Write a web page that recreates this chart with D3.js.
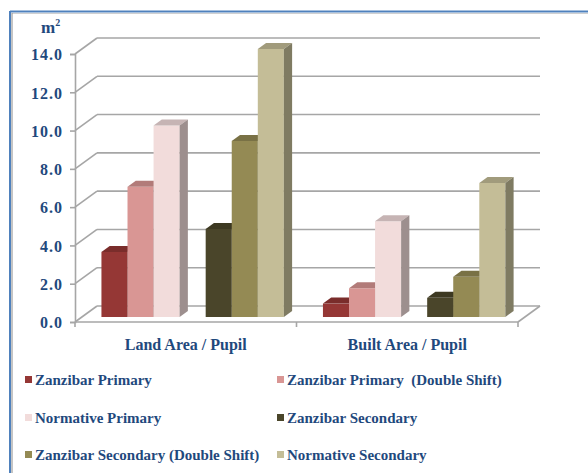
<!DOCTYPE html>
<html>
<head>
<meta charset="utf-8">
<script src="https://cdn.jsdelivr.net/npm/d3@7"></script>
<style>
  html, body { margin: 0; padding: 0; background: #fff; }
  svg { display: block; }
  text { font-family: "Liberation Serif", "Times New Roman", serif; font-weight: bold; fill: #1f497d; }
</style>
</head>
<body>
<svg id="chart" width="588" height="473"></svg>
<script>
// ---- data ----
const categories = ["Land Area / Pupil", "Built Area / Pupil"];
const seriesNames = [
  "Zanzibar Primary",
  "Zanzibar Primary  (Double Shift)",
  "Normative Primary",
  "Zanzibar Secondary",
  "Zanzibar Secondary (Double Shift)",
  "Normative Secondary"
];
const zanzibarPrimary = [3.4, 0.7];
const zanzibarPrimaryDouble = [6.8, 1.5];
const normativePrimary = [10.0, 5.0];
const zanzibarSecondary = [4.6, 1.0];
const zanzibarSecondaryDouble = [9.2, 2.1];
const normativeSecondary = [14.0, 7.0];
const yTicks = [0, 2, 4, 6, 8, 10, 12, 14];
const yTickLabels = ["0.0", "2.0", "4.0", "6.0", "8.0", "10.0", "12.0", "14.0"];
const seriesColors = ["#953735", "#d99694", "#f2dcdb", "#4a452a", "#948a54", "#c4bd97"];

const seriesValues = [zanzibarPrimary, zanzibarPrimaryDouble, normativePrimary,
                      zanzibarSecondary, zanzibarSecondaryDouble, normativeSecondary];
// slot keys: a blank slot separates primary from secondary
const slotKeys = ["s0", "s1", "s2", "gap", "s3", "s4", "s5"];
const seriesSlot = ["s0", "s1", "s2", "s3", "s4", "s5"];

// ---- layout ----
const svg = d3.select("#chart");
const frontLeft = 75, frontRight = 518, floorY = 322, topY = 54;
const depthX = 22, depthY = 16;          // back-plane offset
const barDX = 8.25, barDY = 6;           // bar depth
const barOffX = 6.9, barOffY = 5;        // bar front-face offset from front plane

const y = d3.scaleLinear().domain([0, 14]).range([floorY, topY]);
const x = d3.scaleBand().domain(categories).range([frontLeft, frontRight]).padding(0);
const xs = d3.scaleBand().domain(slotKeys).range([0, x.bandwidth()]).paddingInner(0).paddingOuter(0.75);

const gridColor = "#a6a6a6";

// frame
svg.append("line").attr("x1", 10).attr("y1", 11.5).attr("x2", 588).attr("y2", 11.5)
  .attr("stroke", "#4f81bd").attr("stroke-width", 2);
svg.append("line").attr("x1", 12).attr("y1", 13.5).attr("x2", 588).attr("y2", 13.5)
  .attr("stroke", "#d0d0d0").attr("stroke-width", 1);
svg.append("line").attr("x1", 10).attr("y1", 11).attr("x2", 10).attr("y2", 473)
  .attr("stroke", "#4f81bd").attr("stroke-width", 2);
svg.append("line").attr("x1", 12).attr("y1", 13).attr("x2", 12).attr("y2", 473)
  .attr("stroke", "#8a8a8a").attr("stroke-width", 1);

// gridlines (back wall + left wall diagonals)
const grid = svg.append("g");
yTicks.forEach(v => {
  grid.append("line")
    .attr("x1", frontLeft + depthX).attr("x2", frontRight + depthX)
    .attr("y1", y(v) - depthY).attr("y2", y(v) - depthY)
    .attr("stroke", gridColor).attr("stroke-width", 1.6);
  grid.append("line")
    .attr("x1", frontLeft).attr("y1", y(v))
    .attr("x2", frontLeft + depthX).attr("y2", y(v) - depthY)
    .attr("stroke", gridColor).attr("stroke-width", 1.6);
});
// floor right edge and front edge
grid.append("line")
  .attr("x1", frontRight).attr("y1", floorY)
  .attr("x2", frontRight + depthX).attr("y2", floorY - depthY)
  .attr("stroke", gridColor).attr("stroke-width", 1.6);
grid.append("line")
  .attr("x1", frontLeft).attr("y1", floorY)
  .attr("x2", frontRight).attr("y2", floorY)
  .attr("stroke", gridColor).attr("stroke-width", 1.6);

// value axis
const yAxis = svg.append("g").attr("transform", `translate(${frontLeft},0)`)
  .call(d3.axisLeft(y).tickValues(yTicks).tickSize(5).tickPadding(7)
    .tickFormat((d, i) => yTickLabels[i]));
yAxis.select(".domain").attr("stroke", gridColor).attr("stroke-width", 1.6);
yAxis.selectAll(".tick line").attr("stroke", gridColor).attr("stroke-width", 1.6);
yAxis.selectAll(".tick text").attr("font-size", 16).attr("fill", "#1f497d")
  .attr("font-family", "Liberation Serif").attr("font-weight", "bold")
  .attr("letter-spacing", 1).attr("dy", "0.36em");

// category axis
const xAxis = svg.append("g").attr("transform", `translate(0,${floorY})`)
  .call(d3.axisBottom(x).tickSize(0).tickPadding(17));
xAxis.select(".domain").remove();
xAxis.selectAll(".tick text").attr("font-size", 16).attr("fill", "#1f497d")
  .attr("font-family", "Liberation Serif").attr("font-weight", "bold");
const catTicks = [frontLeft, ...categories.map(c => x(c) + x.bandwidth())];
svg.append("g").selectAll("line").data(catTicks).join("line")
  .attr("x1", d => d).attr("x2", d => d)
  .attr("y1", floorY).attr("y2", floorY + 5)
  .attr("stroke", gridColor).attr("stroke-width", 1.6);

// unit label
const unit = svg.append("text").attr("x", 41).attr("y", 33).attr("font-size", 17);
unit.append("tspan").text("m");
unit.append("tspan").attr("font-size", 10).attr("dy", -7).text("2");

// bars
const shade = (c, k) => { const h = d3.rgb(c); return d3.rgb(h.r * k, h.g * k, h.b * k).formatHex(); };
const bars = svg.append("g");
categories.forEach((cat, ci) => {
  seriesValues.forEach((vals, si) => {
    const v = vals[ci];
    const w = xs.bandwidth();
    const x0 = x(cat) + xs(seriesSlot[si]) + barOffX;
    const yT = y(v) - barOffY;
    const yB = y(0) - barOffY;
    const col = seriesColors[si];
    const g = bars.append("g");
    g.append("rect").attr("x", x0).attr("y", yT).attr("width", w).attr("height", yB - yT)
      .attr("fill", col);
    g.append("polygon")
      .attr("points", [[x0, yT], [x0 + w, yT], [x0 + w + barDX, yT - barDY], [x0 + barDX, yT - barDY]].join(" "))
      .attr("fill", shade(col, 0.82));
    g.append("polygon")
      .attr("points", [[x0 + w, yT], [x0 + w + barDX, yT - barDY], [x0 + w + barDX, yB - barDY], [x0 + w, yB]].join(" "))
      .attr("fill", shade(col, 0.65));
  });
});

// legend
const legendPos = [[25, 380], [277, 380], [25, 418], [277, 418], [25, 455], [277, 455]];
const legend = svg.append("g");
seriesNames.forEach((name, i) => {
  const [lx, ly] = legendPos[i];
  legend.append("rect").attr("x", lx).attr("y", ly - 4).attr("width", 7).attr("height", 7)
    .attr("fill", seriesColors[i]);
  legend.append("text").attr("x", lx + 10).attr("y", ly + 5).attr("font-size", 15)
    .style("white-space", "pre").text(name);
});
</script>
</body>
</html>
